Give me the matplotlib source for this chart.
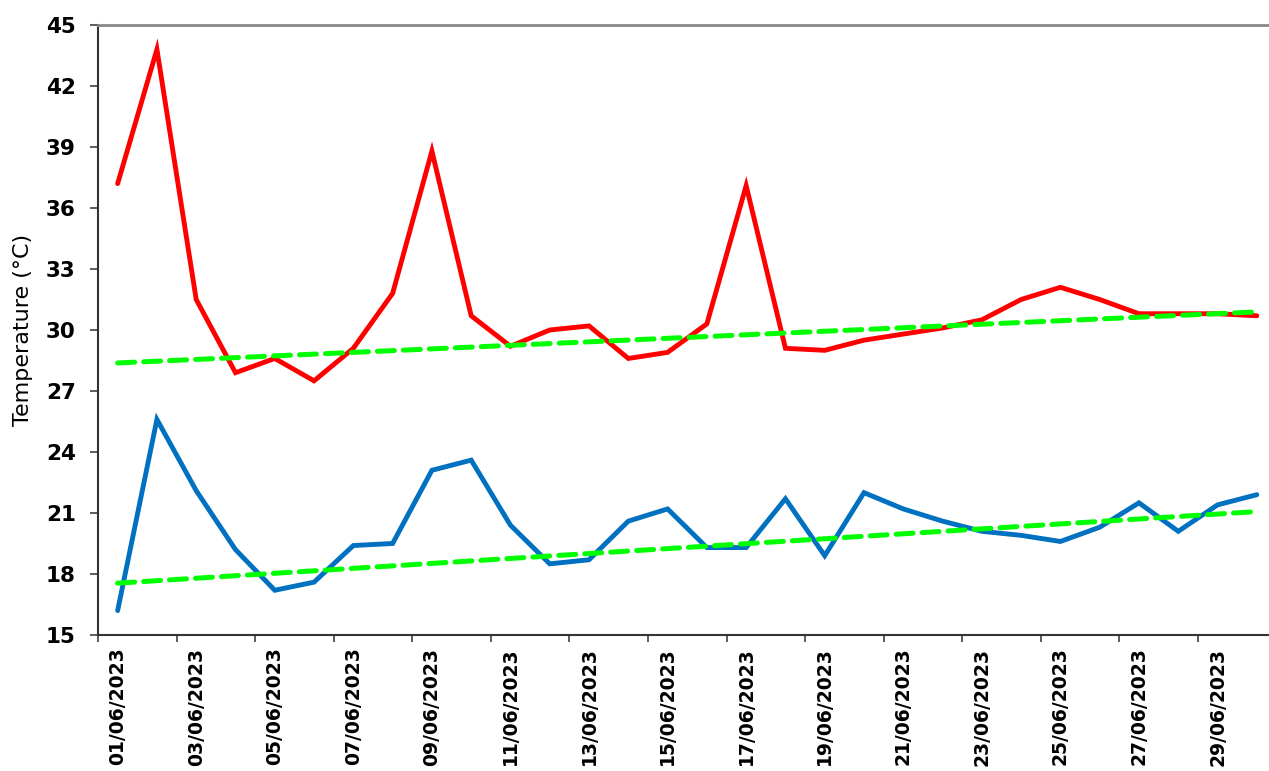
import numpy as np
import matplotlib
matplotlib.use("Agg")
import matplotlib.pyplot as plt
from matplotlib.ticker import FixedLocator, NullFormatter

# daily values, June 2023
dates = ["{:02d}/06/2023".format(d) for d in range(1, 31)]
t_max = [37.2, 43.8, 31.5, 27.9, 28.6, 27.5, 29.1, 31.8, 38.8, 30.7,
         29.2, 30.0, 30.2, 28.6, 28.9, 30.3, 37.1, 29.1, 29.0, 29.5,
         29.8, 30.1, 30.5, 31.5, 32.1, 31.5, 30.8, 30.8, 30.8, 30.7]
t_min = [16.2, 25.6, 22.1, 19.2, 17.2, 17.6, 19.4, 19.5, 23.1, 23.6,
         20.4, 18.5, 18.7, 20.6, 21.2, 19.3, 19.3, 21.7, 18.9, 22.0,
         21.2, 20.6, 20.1, 19.9, 19.6, 20.3, 21.5, 20.1, 21.4, 21.9]
# trend lines as shown (value on first and last day)
trend_max = [28.38, 30.89]
trend_min = [17.55, 21.07]
y_ticks = [15, 18, 21, 24, 27, 30, 33, 36, 39, 42, 45]

x = np.arange(len(dates))

fig = plt.figure(figsize=(12.69, 7.71), dpi=100)
ax = fig.add_axes([98 / 1269, 1 - 635 / 771, 1 - 98 / 1269, 610 / 771])

ax.plot(x, t_max, color="#FF0000", lw=3.5, solid_joinstyle="miter", solid_capstyle="round", zorder=3)
ax.plot(x, t_min, color="#0070C0", lw=3.5, solid_joinstyle="miter", solid_capstyle="round", zorder=3)

for tr in (trend_max, trend_min):
    ax.plot([x[0], x[-1]], tr, color="#00FF00", lw=3.6, dashes=(3.4, 1.8),
            dash_capstyle="round", zorder=4)

ax.set_ylim(15, 45)
ax.set_xlim(-0.5, 29.31)
ax.set_yticks(y_ticks)
ax.set_yticklabels([str(v) for v in y_ticks], fontsize=15.5, fontweight="bold")

# ticks between categories, labels on every second day
ax.xaxis.set_major_locator(FixedLocator(np.arange(-0.5, 30, 2)))
ax.xaxis.set_major_formatter(NullFormatter())
ax.set_xticks(x[::2], minor=True)
ax.set_xticklabels(dates[::2], minor=True, rotation=90, fontsize=13.5, fontweight="bold")
ax.tick_params(axis="x", which="major", length=5, width=1.2, color="#404040")
ax.tick_params(axis="x", which="minor", length=0, pad=9)
ax.tick_params(axis="y", length=6, width=1.2, color="#404040", pad=10)

ax.set_ylabel("Temperature (°C)", fontsize=16, va="center")
ax.yaxis.set_label_coords(-0.064, 0.5)

ax.spines["top"].set_color("#888888")
ax.spines["top"].set_linewidth(2)
ax.spines["left"].set_color("#333333")
ax.spines["left"].set_linewidth(1.5)
ax.spines["bottom"].set_color("#333333")
ax.spines["bottom"].set_linewidth(1.5)
ax.spines["right"].set_visible(False)

fig.savefig("out.png", dpi=100)
